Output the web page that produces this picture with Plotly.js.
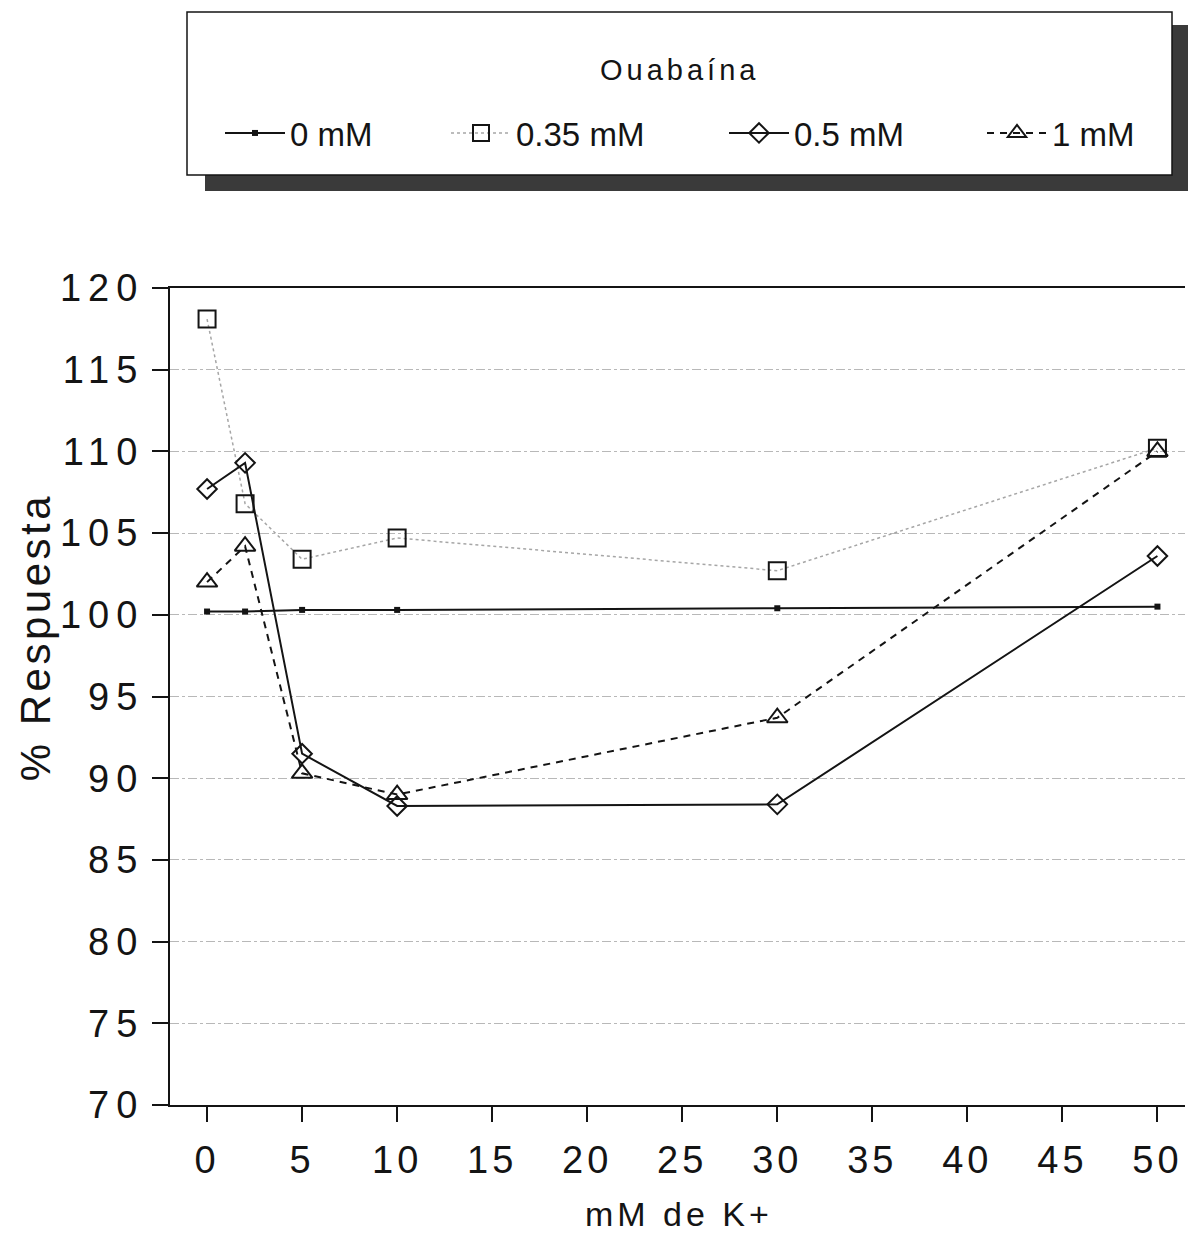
<!DOCTYPE html>
<html>
<head>
<meta charset="utf-8">
<script src="https://cdn.plot.ly/plotly-3.0.1.min.js"></script>
<style>
  html, body { margin: 0; padding: 0; background: #fff; }
  #chart { width: 1188px; height: 1234px; }
  #chart .ytick text { letter-spacing: 7px; }
  #chart .xtick text { letter-spacing: 4px; }
  #chart text.annotation-text { letter-spacing: 4px; }
  #chart g.annotation[data-index="1"] text.annotation-text { letter-spacing: 3.5px; }
</style>
</head>
<body>
<div id="chart"></div>
<script>
// ---- data ----
const potasio = [0, 2, 5, 10, 30, 50];                       // mM de K+
const serie0mM   = [100.2, 100.2, 100.3, 100.3, 100.4, 100.5];
const serie035mM = [118.1, 106.8, 103.4, 104.7, 102.7, 110.2];
const serie05mM  = [107.7, 109.3, 91.5, 88.3, 88.4, 103.6];
const serie1mM   = [102.0, 104.2, 90.3, 89.0, 93.7, 110.0];
const seriesNames = ['0 mM', '0.35 mM', '0.5 mM', '1 mM'];
const legendTitle = 'Ouabaína';
const xTitle = 'mM de K+';
const yTitle = '% Respuesta';

// ---- layout geometry (pixels) ----
const W = 1188, H = 1234;
const M = { l: 170, r: 3, t: 288, b: 129 };
const plotW = W - M.l - M.r, plotH = H - M.t - M.b;
const px = v => (v - M.l) / plotW;          // pixel x -> paper
const py = v => (H - M.b - v) / plotH;      // pixel y -> paper

const FONT = 'Liberation Sans, Arial, Helvetica, sans-serif';
const INK = '#141414';

const traces = [
  { x: potasio, y: serie0mM, name: seriesNames[0], mode: 'lines+markers', legend: 'legend',
    line: { color: INK, width: 2 },
    marker: { symbol: 'square', size: 6, color: INK } },
  { x: potasio, y: serie035mM, name: seriesNames[1], mode: 'lines+markers', legend: 'legend2',
    line: { color: '#a6a6a6', width: 1.5, dash: 'dot' },
    marker: { symbol: 'square-open', size: 17, color: INK, line: { width: 2, color: INK } } },
  { x: potasio, y: serie05mM, name: seriesNames[2], mode: 'lines+markers', legend: 'legend3',
    line: { color: INK, width: 2 },
    marker: { symbol: 'diamond-open', size: 15, color: INK, line: { width: 2, color: INK } } },
  { x: potasio, y: serie1mM, name: seriesNames[3], mode: 'lines+markers', legend: 'legend4',
    line: { color: INK, width: 2, dash: '7px,6px' },
    marker: { symbol: 'triangle-up-open', size: 18, color: INK, line: { width: 2, color: INK } } }
];

function legendAt(xPix) {
  return {
    orientation: 'h',
    x: px(xPix), y: py(133), xanchor: 'left', yanchor: 'middle',
    bgcolor: 'rgba(0,0,0,0)', borderwidth: 0,
    font: { family: FONT, size: 33, color: INK },
    itemwidth: 60
  };
}

const layout = {
  width: W, height: H,
  margin: M,
  paper_bgcolor: '#fff', plot_bgcolor: '#fff',
  font: { family: FONT, color: INK },
  showlegend: true,
  legend: legendAt(220),
  legend2: legendAt(446),
  legend3: legendAt(724),
  legend4: legendAt(982),
  xaxis: {
    range: [-1.95, 51.45],
    tickmode: 'linear', tick0: 0, dtick: 5,
    ticks: 'outside', ticklen: 15, tickwidth: 2, tickcolor: INK,
    showline: true, linecolor: INK, linewidth: 2, mirror: true,
    showgrid: false, zeroline: false,
    tickfont: { family: FONT, size: 38, color: INK },
    ticklabelstandoff: 5
  },
  yaxis: {
    range: [70, 120],
    tickmode: 'linear', tick0: 70, dtick: 5,
    ticks: 'outside', ticklen: 16, tickwidth: 2, tickcolor: INK,
    showline: true, linecolor: INK, linewidth: 2,
    showgrid: true, gridcolor: '#b8b8b8', gridwidth: 1, griddash: 'dashdot',
    zeroline: false,
    tickfont: { family: FONT, size: 38, color: INK },
    ticklabelstandoff: 0
  },
  shapes: [
    // legend shadow
    { type: 'rect', xref: 'paper', yref: 'paper', layer: 'below',
      x0: px(205), x1: px(1188), y0: py(191), y1: py(25),
      fillcolor: '#3a3a3a', line: { width: 0 } },
    // legend box
    { type: 'rect', xref: 'paper', yref: 'paper', layer: 'below',
      x0: px(187), x1: px(1172), y0: py(175), y1: py(12),
      fillcolor: '#ffffff', line: { color: INK, width: 1.5 } }
  ],
  annotations: [
    { text: legendTitle, xref: 'paper', yref: 'paper', x: px(680), y: py(70),
      xanchor: 'center', yanchor: 'middle', showarrow: false,
      font: { family: FONT, size: 29, color: INK } },
    { text: yTitle, xref: 'paper', yref: 'paper', x: px(35), y: py(637),
      xanchor: 'center', yanchor: 'middle', textangle: -90, showarrow: false,
      font: { family: FONT, size: 42, color: INK } },
    { text: xTitle, xref: 'paper', yref: 'paper', x: px(679), y: py(1214),
      xanchor: 'center', yanchor: 'middle', showarrow: false,
      font: { family: FONT, size: 34, color: INK } }
  ]
};

Plotly.newPlot('chart', traces, layout, { displayModeBar: false, staticPlot: true });
</script>
</body>
</html>
